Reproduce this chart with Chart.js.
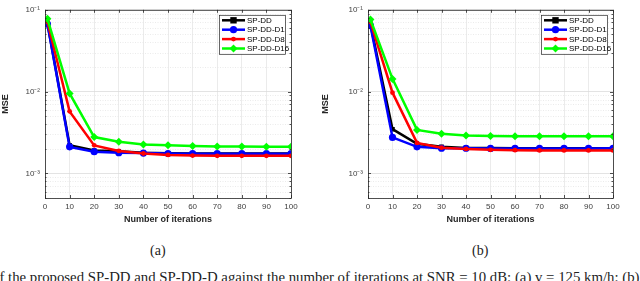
<!DOCTYPE html>
<html>
<head>
<meta charset="utf-8">
<script src="https://cdn.jsdelivr.net/npm/chart.js@4.4.1/dist/chart.umd.min.js"></script>
<style>
  body { margin: 0; background: #fff; width: 640px; height: 281px; overflow: hidden; position: relative; }
  .panel { position: absolute; top: 0; width: 320px; height: 225px; }
  .cap { position: absolute; font-family: 'Liberation Serif', serif; font-size: 14px; color: #222; }
  .figcap { position: absolute; left: -8px; top: 269px; white-space: nowrap; font-family: 'Liberation Serif', serif; font-size: 14.8px; color: #222; }
</style>
</head>
<body>
<div class="panel" style="left:0"><canvas id="chartA" width="320" height="225"></canvas></div>
<div class="panel" style="left:320px"><canvas id="chartB" width="320" height="225"></canvas></div>
<div class="cap" style="left:150px; top:243px">(a)</div>
<div class="cap" style="left:472px; top:243px">(b)</div>
<div class="figcap">of the proposed SP-DD and SP-DD-D against the number of iterations at SNR = 10 dB: (a) v = 125 km/h; (b)</div>
<script>
// 반복 횟수 (x축)
const iterations = [1, 10, 20, 30, 40, 50, 60, 70, 80, 90, 100];
const seriesNames = ['SP-DD', 'SP-DD-D1', 'SP-DD-D8', 'SP-DD-D16'];
const xTicks = [0, 10, 20, 30, 40, 50, 60, 70, 80, 90, 100];
const yMajorTicks = [1e-3, 1e-2, 1e-1];

// (a) MSE 값
const mseA_SPDD = [0.068, 0.00221, 0.00191, 0.00186, 0.00179, 0.00176, 0.00175, 0.00175, 0.00175, 0.00175, 0.00175];
const mseA_D1   = [0.067, 0.00211, 0.00184, 0.00179, 0.00177, 0.00175, 0.00174, 0.00174, 0.00174, 0.00174, 0.00174];
const mseA_D8   = [0.0714, 0.00573, 0.0022, 0.00188, 0.00175, 0.00168, 0.00165, 0.00164, 0.00164, 0.00164, 0.00164];
const mseA_D16  = [0.0775, 0.0095, 0.00278, 0.00243, 0.00226, 0.0022, 0.00216, 0.00213, 0.00213, 0.00212, 0.00211];

// (b) MSE 값
const mseB_SPDD = [0.066, 0.00347, 0.0023, 0.00211, 0.00205, 0.00204, 0.00203, 0.00203, 0.00203, 0.00203, 0.00203];
const mseB_D1   = [0.064, 0.00275, 0.00211, 0.00203, 0.00203, 0.00202, 0.00202, 0.00202, 0.00202, 0.00202, 0.00203];
const mseB_D8   = [0.071, 0.0097, 0.00236, 0.00206, 0.00199, 0.00194, 0.00192, 0.00191, 0.00191, 0.00191, 0.00191];
const mseB_D16  = [0.076, 0.0143, 0.0034, 0.00305, 0.0029, 0.00286, 0.00285, 0.00284, 0.00284, 0.00284, 0.00284];

const colors = ['#000000', '#0000ff', '#ff0000', '#00ff00'];
const markers = ['rect', 'circle', 'circle', 'rectRot'];
const markerSizes = [3.2, 3.6, 2.4, 4];

const supers = { '-': '\u207B', '1': '\u00B9', '2': '\u00B2', '3': '\u00B3' };
function powLabel(v) {
    const e = Math.round(Math.log10(v));
    return '10' + String(e).split('').map(c => supers[c] || c).join('');
}

function drawMarker(ctx, style, r, x, y, color) {
    ctx.save();
    ctx.fillStyle = color;
    ctx.beginPath();
    if (style === 'rect') {
        ctx.rect(x - r, y - r, 2 * r, 2 * r);
    } else if (style === 'rectRot') {
        ctx.moveTo(x, y - r); ctx.lineTo(x + r, y); ctx.lineTo(x, y + r); ctx.lineTo(x - r, y); ctx.closePath();
    } else {
        ctx.arc(x, y, r, 0, Math.PI * 2);
    }
    ctx.fill();
    ctx.restore();
}

// MATLAB 스타일 박스, 보조 격자, 안쪽 눈금, 범례
const matlabFrame = {
    id: 'matlabFrame',
    beforeDatasetsDraw(chart) {
        const { ctx, chartArea: a, scales: { y } } = chart;
        ctx.save();
        ctx.strokeStyle = '#e3e3e3';
        ctx.lineWidth = 0.7;
        ctx.setLineDash([1, 1.5]);
        for (let e = -4; e <= -2; e++) {
            for (let k = 2; k <= 9; k++) {
                const v = k * Math.pow(10, e);
                if (v < y.min || v > y.max) continue;
                const py = Math.round(y.getPixelForValue(v)) + 0.5;
                ctx.beginPath(); ctx.moveTo(a.left, py); ctx.lineTo(a.right, py); ctx.stroke();
            }
        }
        ctx.restore();
    },
    afterDatasetsDraw(chart) {
        const { ctx, chartArea: a, scales: { x, y } } = chart;
        ctx.save();
        ctx.strokeStyle = '#262626';
        ctx.lineWidth = 0.8;
        ctx.strokeRect(a.left + 0.5, a.top + 0.5, a.right - a.left, a.bottom - a.top);
        ctx.beginPath();
        xTicks.forEach(t => {
            const px = Math.round(x.getPixelForValue(t)) + 0.5;
            ctx.moveTo(px, a.bottom); ctx.lineTo(px, a.bottom - 3);
            ctx.moveTo(px, a.top); ctx.lineTo(px, a.top + 3);
        });
        yMajorTicks.forEach(t => {
            const py = Math.round(y.getPixelForValue(t)) + 0.5;
            ctx.moveTo(a.left, py); ctx.lineTo(a.left + 3, py);
            ctx.moveTo(a.right, py); ctx.lineTo(a.right - 3, py);
        });
        for (let e = -4; e <= -2; e++) {
            for (let k = 2; k <= 9; k++) {
                const v = k * Math.pow(10, e);
                if (v < y.min || v > y.max) continue;
                const py = Math.round(y.getPixelForValue(v)) + 0.5;
                ctx.moveTo(a.left, py); ctx.lineTo(a.left + 1.5, py);
                ctx.moveTo(a.right, py); ctx.lineTo(a.right - 1.5, py);
            }
        }
        ctx.stroke();

        // 범례
        const bw = 66, bh = 39;
        const bx = a.right - 6 - bw, by = a.top + 5;
        ctx.fillStyle = '#ffffff';
        ctx.fillRect(bx, by, bw, bh);
        ctx.lineWidth = 0.7;
        ctx.strokeRect(bx + 0.5, by + 0.5, bw, bh);
        ctx.font = '8px "Liberation Sans", Arial, sans-serif';
        ctx.textBaseline = 'middle';
        seriesNames.forEach((name, i) => {
            const ly = by + 5.5 + i * 9.4;
            ctx.strokeStyle = colors[i];
            ctx.lineWidth = 2.5;
            ctx.beginPath(); ctx.moveTo(bx + 3, ly); ctx.lineTo(bx + 26, ly); ctx.stroke();
            drawMarker(ctx, markers[i], markerSizes[i], bx + 14.5, ly, colors[i]);
            ctx.fillStyle = '#000';
            ctx.fillText(name, bx + 28, ly + 0.5);
        });
        ctx.restore();
    }
};

function makeChart(id, series, leftW, rightPad) {
    const datasets = series.map((vals, i) => ({
        label: seriesNames[i],
        data: iterations.map((it, j) => ({ x: it, y: vals[j] })),
        borderColor: colors[i],
        backgroundColor: colors[i],
        borderWidth: 2.5,
        pointStyle: markers[i],
        pointRadius: markerSizes[i],
        pointHoverRadius: markerSizes[i],
        pointBorderWidth: 0,
        tension: 0,
        order: 4 - i
    }));
    return new Chart(document.getElementById(id), {
        type: 'line',
        data: { datasets },
        plugins: [matlabFrame],
        options: {
            responsive: false,
            animation: false,
            devicePixelRatio: 1,
            layout: { padding: { left: 0, right: rightPad, top: 5, bottom: 0 } },
            plugins: { legend: { display: false }, tooltip: { enabled: false } },
            scales: {
                x: {
                    type: 'linear', min: 0, max: 100,
                    afterBuildTicks: s => { s.ticks = xTicks.map(v => ({ value: v })); },
                    afterFit: s => { s.height = 27; },
                    border: { display: false },
                    grid: { color: '#e6e6e6', lineWidth: 0.8, drawTicks: false },
                    ticks: { padding: 4, color: '#404040', font: { size: 8, family: '"Liberation Sans", Arial, sans-serif' } },
                    title: { display: true, text: 'Number of iterations', color: '#262626', padding: { top: 1, bottom: 0 },
                             font: { size: 9, weight: 'bold', family: '"Liberation Sans", Arial, sans-serif' } }
                },
                y: {
                    type: 'logarithmic', min: 5e-4, max: 1e-1,
                    afterBuildTicks: s => { s.ticks = yMajorTicks.map(v => ({ value: v })); },
                    afterFit: s => { s.width = leftW; },
                    border: { display: false },
                    grid: { color: '#dcdcdc', lineWidth: 0.8, drawTicks: false },
                    ticks: { padding: 5, color: '#404040', autoSkip: false, callback: v => powLabel(v),
                             font: { size: 8, family: '"Liberation Sans", Arial, sans-serif' } },
                    title: { display: true, text: 'MSE', color: '#262626', padding: { top: 0, bottom: 2 },
                             font: { size: 9, weight: 'bold', family: '"Liberation Sans", Arial, sans-serif' } }
                }
            }
        }
    });
}

makeChart('chartA', [mseA_SPDD, mseA_D1, mseA_D8, mseA_D16], 45, 29);
makeChart('chartB', [mseB_SPDD, mseB_D1, mseB_D8, mseB_D16], 48, 27);
</script>
</body>
</html>
